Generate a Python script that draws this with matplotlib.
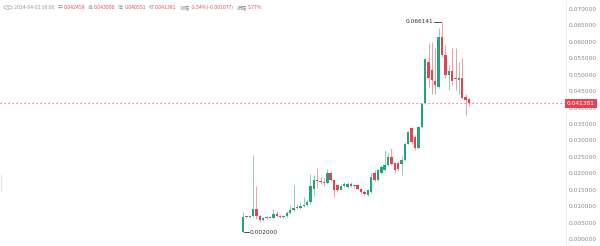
import numpy as np
import matplotlib
matplotlib.use("Agg")
import matplotlib.pyplot as plt
from matplotlib import font_manager as fm
from matplotlib.patches import Circle

cjk = sorted({f.name for f in fm.fontManager.ttflist if 'CJK' in f.name})
plt.rcParams['font.family'] = cjk[:1] + ['DejaVu Sans']

# OHLC data
opens = [0.0022, 0.0068, 0.0066, 0.0070, 0.0092, 0.0070, 0.0058, 0.0064, 0.0067, 0.0065,
         0.0076, 0.0070, 0.0066, 0.0069, 0.0080, 0.0088, 0.0095, 0.0093, 0.0100, 0.0104,
         0.0112, 0.0152, 0.0180, 0.0177, 0.0175, 0.0170, 0.0200, 0.0180, 0.0165, 0.0150,
         0.0162, 0.0158, 0.0167, 0.0160, 0.0163, 0.0152, 0.0144, 0.0134,
         0.0143, 0.0200, 0.0180, 0.0200, 0.0210, 0.0225, 0.0250, 0.0231, 0.0231, 0.0228,
         0.0240, 0.0290, 0.0338, 0.0310, 0.0277, 0.0340,
         0.0414, 0.0539, 0.0514, 0.0480, 0.0463, 0.0615, 0.0560, 0.0500, 0.0510, 0.0490,
         0.0484, 0.0490, 0.0432, 0.042458]
highs = [0.0082, 0.0071, 0.0072, 0.0256, 0.0160, 0.0072, 0.0066, 0.0070, 0.0070, 0.0090,
         0.0086, 0.0074, 0.0072, 0.0085, 0.0104, 0.0165, 0.0106, 0.0112, 0.0128, 0.0118,
         0.0198, 0.0195, 0.0216, 0.0190, 0.0185, 0.0213, 0.0206, 0.0184, 0.0168, 0.0168,
         0.0175, 0.0172, 0.0172, 0.0168, 0.0166, 0.0158, 0.0150, 0.0150,
         0.0200, 0.0210, 0.0214, 0.0224, 0.0270, 0.0262, 0.0277, 0.0235, 0.0236, 0.0252,
         0.0295, 0.0328, 0.0342, 0.0316, 0.0345, 0.0415,
         0.0552, 0.0596, 0.0600, 0.0580, 0.0642, 0.066141, 0.0590, 0.0530, 0.0580, 0.0580,
         0.0540, 0.0550, 0.0440, 0.043000]
lows = [0.0020, 0.0064, 0.0064, 0.0066, 0.0062, 0.0052, 0.0054, 0.0060, 0.0063, 0.0063,
        0.0068, 0.0063, 0.0064, 0.0067, 0.0076, 0.0084, 0.0090, 0.0090, 0.0097, 0.0100,
        0.0108, 0.0132, 0.0155, 0.0168, 0.0160, 0.0168, 0.0176, 0.0128, 0.0144, 0.0148,
        0.0158, 0.0155, 0.0158, 0.0156, 0.0150, 0.0140, 0.0134, 0.0130,
        0.0140, 0.0176, 0.0176, 0.0198, 0.0208, 0.0222, 0.0225, 0.0200, 0.0208, 0.0196,
        0.0238, 0.0288, 0.0290, 0.0270, 0.0275, 0.0338,
        0.0412, 0.0463, 0.0440, 0.0440, 0.0460, 0.0555, 0.0490, 0.0453, 0.0470, 0.0455,
        0.0440, 0.0425, 0.0378, 0.040551]
closes = [0.0068, 0.0066, 0.0070, 0.0092, 0.0070, 0.0058, 0.0064, 0.0067, 0.0065, 0.0076,
          0.0070, 0.0066, 0.0069, 0.0080, 0.0088, 0.0095, 0.0093, 0.0100, 0.0104, 0.0112,
          0.0160, 0.0180, 0.0177, 0.0175, 0.0170, 0.0200, 0.0180, 0.0150, 0.0150, 0.0162,
          0.0168, 0.0167, 0.0160, 0.0163, 0.0152, 0.0144, 0.0138, 0.0148,
          0.0190, 0.0180, 0.0210, 0.0220, 0.0225, 0.0250, 0.0228, 0.0210, 0.0212, 0.0240,
          0.0290, 0.0325, 0.0295, 0.0277, 0.0340, 0.0412,
          0.0548, 0.0490, 0.0484, 0.0470, 0.0615, 0.0560, 0.0500, 0.0510, 0.0480, 0.0488,
          0.0490, 0.0430, 0.0424, 0.041381]

yticks = np.arange(0, 0.0701, 0.005)
last_price = 0.041381

header = [("2024-04-02 16:00", '#9a9a9a'), ("开", '#9a9a9a'), ("0.042458", '#e8505f'),
          ("高", '#9a9a9a'), ("0.043000", '#e8505f'), ("低", '#9a9a9a'), ("0.040551", '#e8505f'),
          ("收", '#9a9a9a'), ("0.041381", '#e8505f'), ("涨幅", '#9a9a9a'),
          ("-2.54%(-0.001077)", '#e8505f'), ("振幅", '#9a9a9a'), ("5.77%", '#e8505f')]

GREEN = '#1fa67a'
RED = '#e8414f'

o = np.array(opens); h = np.array(highs); l = np.array(lows); c = np.array(closes)
n = len(o)
x = np.arange(n)
colors = [GREEN if cc >= oo else RED for oo, cc in zip(o, c)]

fig = plt.figure(figsize=(6, 2.46), dpi=100)
ax = fig.add_axes([0, 0, 566 / 600, 1])

# pixel layout: first candle at x=243, last at x=469; 0 at y=239, 0.07 at y=9
step = (469 - 243) / (n - 1)
ax.set_xlim(-243 / step, (566 - 243) / step)
ppu = 230 / 0.07
ax.set_ylim((239 - 246) / ppu, 239 / ppu)

ax.vlines(x, l, h, colors=colors, linewidth=0.6, alpha=0.6)
body_bot = np.minimum(o, c)
body_h = np.maximum(np.abs(c - o), 0.0003)
ax.bar(x, body_h, bottom=body_bot, width=0.72, color=colors, linewidth=0)

# current price line
ax.axhline(last_price, color='#ee7080', linestyle=(0, (1.2, 2.4)), linewidth=0.8)

# low / high markers
imin = int(np.argmin(l))
imax = int(np.argmax(h))
ax.plot([imin + 0.3, imin + 1.8], [l[imin], l[imin]], color='#333333', linewidth=0.6)
ax.text(imin + 2.1, l[imin], f"{l[imin]:.6f}", fontsize=4.2, color='#333333',
        va='center', ha='left', family='DejaVu Sans')
ax.plot([imax - 2.3, imax - 0.3], [h[imax], h[imax]], color='#333333', linewidth=0.6)
ax.text(imax - 2.6, h[imax], f"{h[imax]:.6f}", fontsize=4.2, color='#333333',
        va='center', ha='right', family='DejaVu Sans')

# right axis
ax.yaxis.tick_right()
ax.set_yticks(yticks)
ax.set_yticklabels([f"{t:.6f}" for t in yticks])
ax.tick_params(axis='y', length=0, pad=2, labelsize=4.2, labelcolor='#8a8a8a')
for lab in ax.get_yticklabels():
    lab.set_family('DejaVu Sans')
ax.set_xticks([])
for s in ['top', 'left', 'bottom']:
    ax.spines[s].set_visible(False)
ax.spines['right'].set_color('#eeeeee')
ax.spines['right'].set_linewidth(0.6)

# faint marker at the left edge
fig.add_artist(plt.Line2D([0.5 / 600, 0.5 / 600], [1 - 175 / 246, 1 - 191 / 246],
                          color='#dddddd', linewidth=0.6))

# price tag
fig.text(567 / 600, 1 - 103.5 / 246, f"{last_price:.6f}", fontsize=4.2, color='white',
         va='center', ha='left', family='DejaVu Sans',
         bbox=dict(boxstyle='square,pad=0.28', fc=RED, ec='none'))

# header
fig.patches.append(Circle((8 / 600, 1 - 7.5 / 246), 0.0072, transform=fig.transFigure,
                          fill=False, ec='#aaaaaa', lw=0.5))
fig.text(8 / 600, 1 - 7.5 / 246, "v", fontsize=3.3, color='#aaaaaa', ha='center', va='center',
         family='DejaVu Sans')
prev = fig.text(14 / 600, 1 - 7.5 / 246, header[0][0], fontsize=3.7, color=header[0][1],
                va='center', ha='left')
for txt, col in header[1:]:
    gap = 2.0 if txt[0] in '开高低收涨振' else 0.8
    prev = ax.annotate(txt, xy=(1, 0.5), xycoords=prev, xytext=(gap, 0),
                       textcoords='offset points', fontsize=3.7, color=col,
                       va='center', ha='left', annotation_clip=False)

fig.savefig("out.png", dpi=100)
